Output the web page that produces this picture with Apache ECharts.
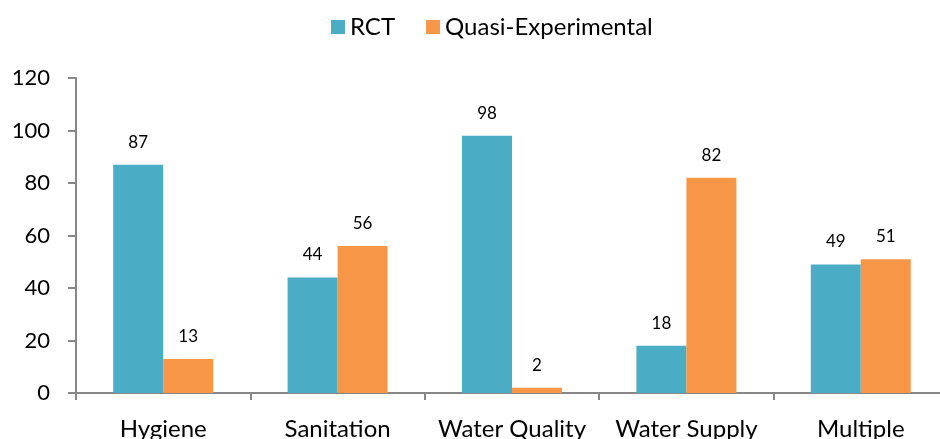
<!DOCTYPE html>
<html>
<head>
<meta charset="utf-8">
<script src="https://cdn.jsdelivr.net/npm/echarts@6/dist/echarts.min.js"></script>
<style>
  html, body { margin: 0; padding: 0; background: #fff; }
  #chart { width: 940px; height: 439px; }
</style>
</head>
<body>
<div id="chart"></div>
<script>
var categories = ['Hygiene', 'Sanitation', 'Water Quality', 'Water Supply', 'Multiple'];
var rctValues = [87, 44, 98, 18, 49];
var quasiValues = [13, 56, 2, 82, 51];
var yTicks = [0, 20, 40, 60, 80, 100, 120];

var fontName = 'Lato';
var axisGray = '#878787';

var chart = echarts.init(document.getElementById('chart'));

var option = {
  animation: false,
  textStyle: { fontFamily: fontName, color: '#000' },
  legend: {
    left: 326,
    top: 10,
    itemWidth: 14,
    itemHeight: 14,
    itemGap: 31,
    icon: 'rect',
    textStyle: { fontSize: 24, fontFamily: fontName, color: '#000' },
    data: ['RCT', 'Quasi-Experimental']
  },
  grid: {
    left: 76,
    top: 78,
    width: 872,
    height: 315,
    containLabel: false,
    outerBoundsMode: 'none'
  },
  xAxis: {
    type: 'category',
    data: categories,
    axisLine: { show: true, lineStyle: { color: axisGray, width: 2 } },
    axisTick: { show: true, length: 7, lineStyle: { color: axisGray, width: 2 } },
    axisLabel: { interval: 0, fontSize: 24, fontFamily: fontName, color: '#000', margin: 24 }
  },
  yAxis: {
    type: 'value',
    min: yTicks[0],
    max: yTicks[yTicks.length - 1],
    interval: 20,
    splitLine: { show: false },
    axisLine: { show: true, lineStyle: { color: axisGray, width: 2 } },
    axisTick: { show: true, length: 8, lineStyle: { color: axisGray, width: 2 } },
    axisLabel: { fontSize: 22, fontFamily: fontName, color: '#000', margin: 26 }
  },
  series: [
    {
      name: 'RCT',
      type: 'bar',
      data: rctValues,
      barWidth: 50,
      barGap: '0%',
      itemStyle: { color: '#4BACC6' },
      label: { show: true, position: 'top', distance: 14, fontSize: 17, fontFamily: fontName, color: '#000' }
    },
    {
      name: 'Quasi-Experimental',
      type: 'bar',
      data: quasiValues,
      barWidth: 50,
      barGap: '0%',
      itemStyle: { color: '#F79646' },
      label: { show: true, position: 'top', distance: 14, fontSize: 17, fontFamily: fontName, color: '#000' }
    }
  ]
};

chart.setOption(option);
</script>
</body>
</html>
